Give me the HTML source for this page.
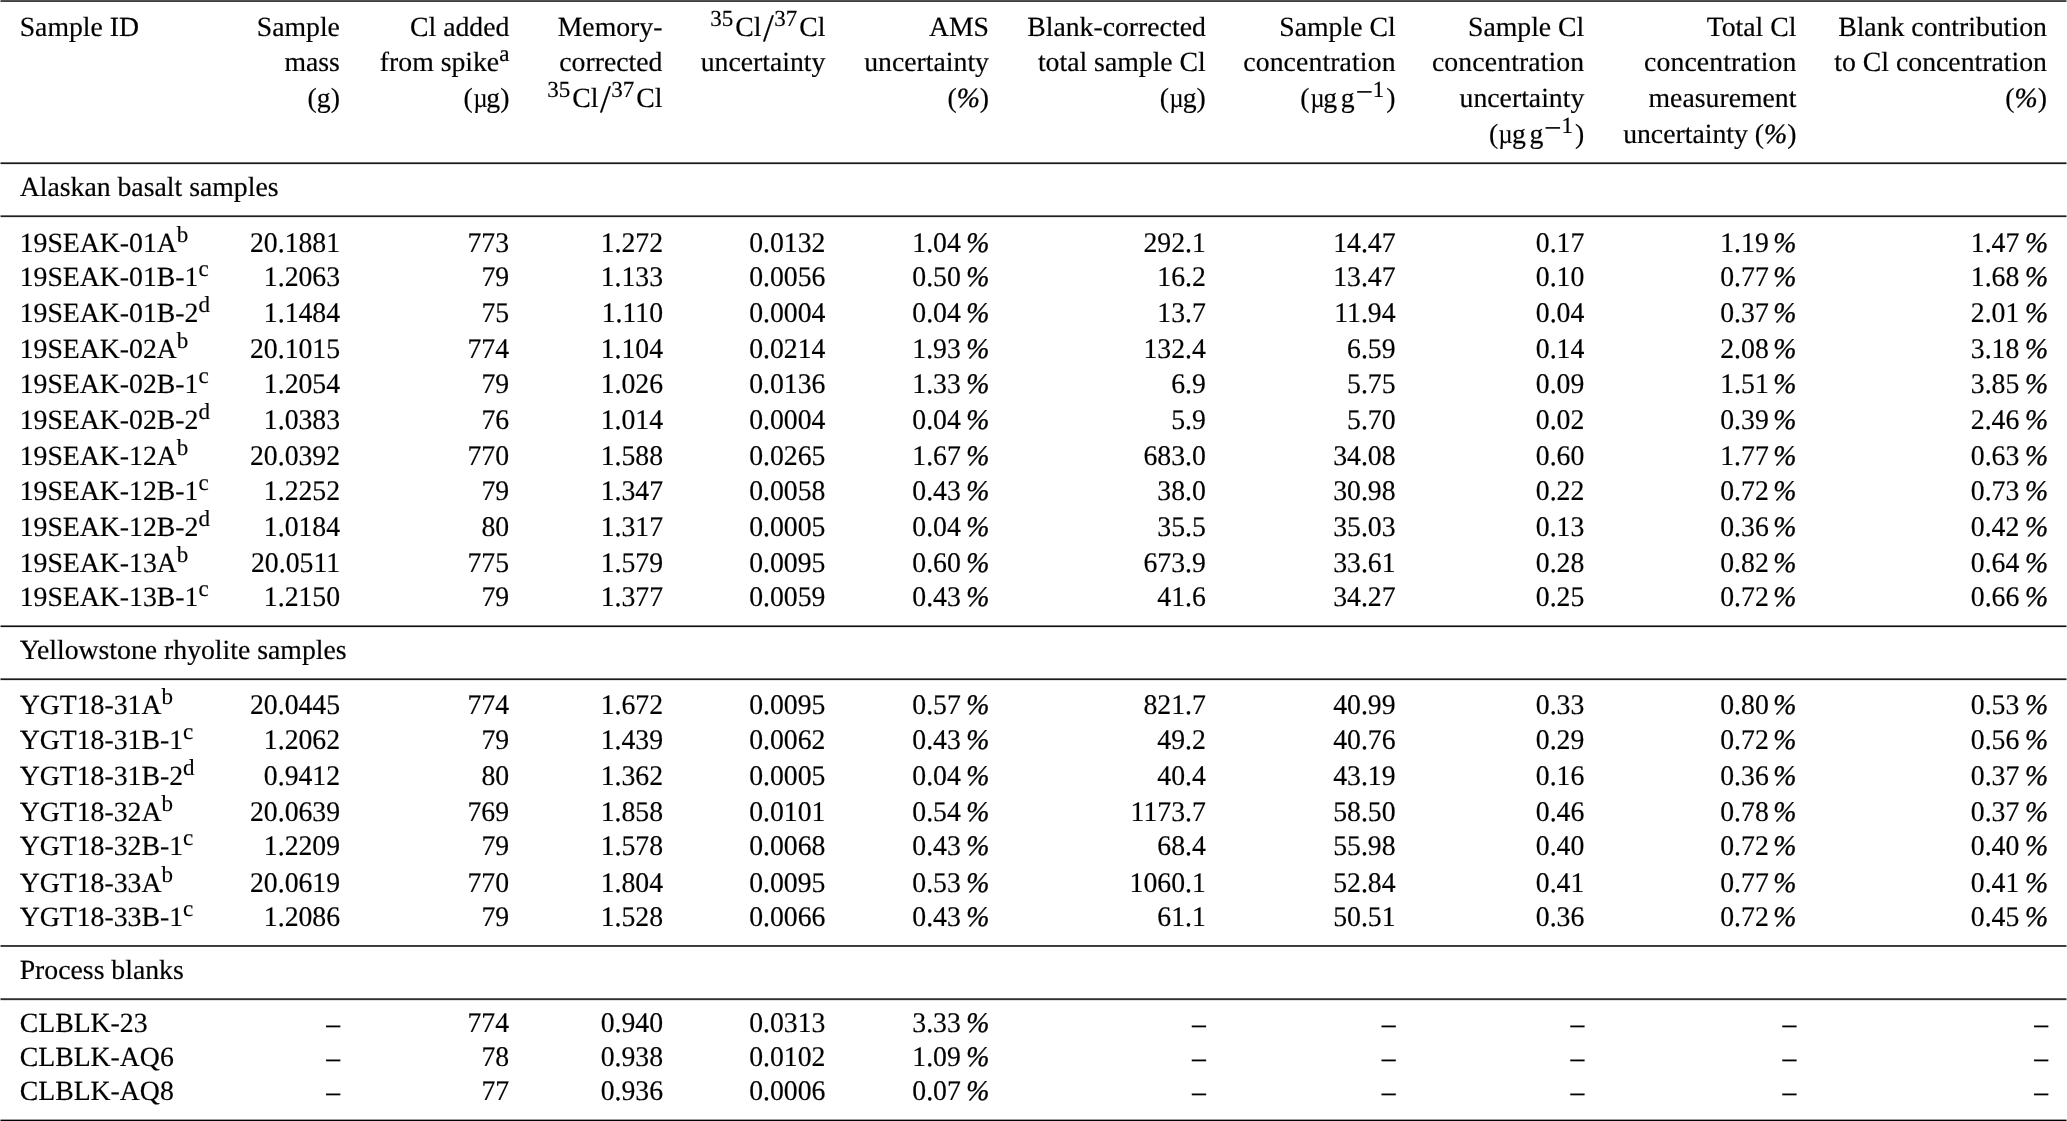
<!DOCTYPE html>
<html lang="en"><head><meta charset="utf-8"><title>Table</title>
<style>
html,body{margin:0;padding:0;background:#fff;}
body{width:2067px;height:1121px;position:relative;overflow:hidden;will-change:transform;
 font-family:"Liberation Serif","DejaVu Serif",serif;font-size:27.74px;color:#000;-webkit-text-stroke:0.18px #000;
 -webkit-font-smoothing:antialiased;text-rendering:geometricPrecision;}
.c{position:absolute;white-space:nowrap;line-height:36px;height:36px;}
.r{text-align:right;}
.n{transform:scaleY(1.024);transform-origin:0 26px;}
.rule{position:absolute;left:1px;width:2065px;height:1px;}
.cap{position:absolute;width:1px;height:1px;}
sup{font-size:23px;line-height:0;vertical-align:baseline;position:relative;top:-10.5px;}
sup.ss{margin-right:2px;}
i{font-style:italic;-webkit-text-stroke:0.36px #000;}
.lsp{letter-spacing:0.11px;}
.ps{display:inline-block;width:4.5px;}
.p6{display:inline-block;width:5.4px;}
.pw{display:inline-block;width:5.7px;}
.d{position:relative;top:1px;-webkit-text-stroke:0.12px #000;}
.ts{display:inline-block;width:0.135em;}
.sl{font-size:39px;line-height:0;position:relative;top:5px;margin-left:1.7px;margin-right:0.3px;}
.mn{font-size:30.5px;line-height:0;position:relative;top:-5.5px;margin-left:1px;}
.mu{display:inline-block;width:13.6px;transform-origin:0 0;transform:translateX(0.5px) scaleX(0.88);}
</style></head>
<body>
<div class="rule" style="top:0px;background:#525252"></div>
<div class="cap" style="top:0px;left:0;background:#a8a8a8"></div>
<div class="cap" style="top:0px;left:2066px;background:#a8a8a8"></div>
<div class="rule" style="top:1px;background:#3e3e3e"></div>
<div class="cap" style="top:1px;left:0;background:#9e9e9e"></div>
<div class="cap" style="top:1px;left:2066px;background:#9e9e9e"></div>
<div class="rule" style="top:162px;background:#6a6a6a"></div>
<div class="cap" style="top:162px;left:0;background:#b4b4b4"></div>
<div class="cap" style="top:162px;left:2066px;background:#b4b4b4"></div>
<div class="rule" style="top:163px;background:#1a1a1a"></div>
<div class="cap" style="top:163px;left:0;background:#8c8c8c"></div>
<div class="cap" style="top:163px;left:2066px;background:#8c8c8c"></div>
<div class="rule" style="top:164px;background:#e4e4e4"></div>
<div class="cap" style="top:164px;left:0;background:#f2f2f2"></div>
<div class="cap" style="top:164px;left:2066px;background:#f2f2f2"></div>
<div class="rule" style="top:215px;background:#707070"></div>
<div class="cap" style="top:215px;left:0;background:#b8b8b8"></div>
<div class="cap" style="top:215px;left:2066px;background:#b8b8b8"></div>
<div class="rule" style="top:216px;background:#202020"></div>
<div class="cap" style="top:216px;left:0;background:#909090"></div>
<div class="cap" style="top:216px;left:2066px;background:#909090"></div>
<div class="rule" style="top:217px;background:#e4e4e4"></div>
<div class="cap" style="top:217px;left:0;background:#f2f2f2"></div>
<div class="cap" style="top:217px;left:2066px;background:#f2f2f2"></div>
<div class="rule" style="top:625px;background:#787878"></div>
<div class="cap" style="top:625px;left:0;background:#bcbcbc"></div>
<div class="cap" style="top:625px;left:2066px;background:#bcbcbc"></div>
<div class="rule" style="top:626px;background:#0d0d0d"></div>
<div class="cap" style="top:626px;left:0;background:#868686"></div>
<div class="cap" style="top:626px;left:2066px;background:#868686"></div>
<div class="rule" style="top:627px;background:#e8e8e8"></div>
<div class="cap" style="top:627px;left:0;background:#f4f4f4"></div>
<div class="cap" style="top:627px;left:2066px;background:#f4f4f4"></div>
<div class="rule" style="top:678px;background:#6a6a6a"></div>
<div class="cap" style="top:678px;left:0;background:#b4b4b4"></div>
<div class="cap" style="top:678px;left:2066px;background:#b4b4b4"></div>
<div class="rule" style="top:679px;background:#1a1a1a"></div>
<div class="cap" style="top:679px;left:0;background:#8c8c8c"></div>
<div class="cap" style="top:679px;left:2066px;background:#8c8c8c"></div>
<div class="rule" style="top:680px;background:#e4e4e4"></div>
<div class="cap" style="top:680px;left:0;background:#f2f2f2"></div>
<div class="cap" style="top:680px;left:2066px;background:#f2f2f2"></div>
<div class="rule" style="top:945px;background:#3a3a3a"></div>
<div class="cap" style="top:945px;left:0;background:#9c9c9c"></div>
<div class="cap" style="top:945px;left:2066px;background:#9c9c9c"></div>
<div class="rule" style="top:946px;background:#454545"></div>
<div class="cap" style="top:946px;left:0;background:#a2a2a2"></div>
<div class="cap" style="top:946px;left:2066px;background:#a2a2a2"></div>
<div class="rule" style="top:998px;background:#5c5c5c"></div>
<div class="cap" style="top:998px;left:0;background:#aeaeae"></div>
<div class="cap" style="top:998px;left:2066px;background:#aeaeae"></div>
<div class="rule" style="top:999px;background:#303030"></div>
<div class="cap" style="top:999px;left:0;background:#989898"></div>
<div class="cap" style="top:999px;left:2066px;background:#989898"></div>
<div class="rule" style="top:1000px;background:#e0e0e0"></div>
<div class="cap" style="top:1000px;left:0;background:#f0f0f0"></div>
<div class="cap" style="top:1000px;left:2066px;background:#f0f0f0"></div>
<div class="rule" style="top:1119px;background:#a0a0a0"></div>
<div class="cap" style="top:1119px;left:0;background:#d0d0d0"></div>
<div class="cap" style="top:1119px;left:2066px;background:#d0d0d0"></div>
<div class="rule" style="top:1120px;background:#000000"></div>
<div class="cap" style="top:1120px;left:0;background:#808080"></div>
<div class="cap" style="top:1120px;left:2066px;background:#808080"></div>
<div class="c" style="left:19.70px;top:10px">Sample ID</div>
<div class="c r" style="right:1727.10px;top:10px">Sample</div>
<div class="c r" style="right:1727.10px;top:45px">mass</div>
<div class="c r" style="right:1727.10px;top:81px">(g)</div>
<div class="c r" style="right:1557.60px;top:10px">Cl added</div>
<div class="c r" style="right:1557.60px;top:45px">from spike<sup>a</sup></div>
<div class="c r" style="right:1557.60px;top:81px">(<span class="mu">µ</span>g)</div>
<div class="c r" style="right:1404.60px;top:10px">Memory-</div>
<div class="c r" style="right:1404.60px;top:45px">corrected</div>
<div class="c r" style="right:1404.60px;top:81px"><sup class="ss">35</sup>Cl<span class="sl">/</span><sup class="ss">37</sup>Cl</div>
<div class="c r" style="right:1241.60px;top:10px"><sup class="ss">35</sup>Cl<span class="sl">/</span><sup class="ss">37</sup>Cl</div>
<div class="c r" style="right:1241.60px;top:45px">uncertainty</div>
<div class="c r" style="right:1078.00px;top:10px">AMS</div>
<div class="c r" style="right:1078.00px;top:45px">uncertainty</div>
<div class="c r" style="right:1078.00px;top:81px">(<i>%</i>)</div>
<div class="c r" style="right:861.20px;top:10px">Blank-corrected</div>
<div class="c r" style="right:861.20px;top:45px">total sample Cl</div>
<div class="c r" style="right:861.20px;top:81px">(<span class="mu">µ</span>g)</div>
<div class="c r" style="right:671.40px;top:10px">Sample Cl</div>
<div class="c r" style="right:671.40px;top:45px"><span class="lsp">concentration</span></div>
<div class="c r" style="right:671.40px;top:81px">(<span class="mu">µ</span>g<span class="ts"></span>g<span class="mn">−</span><sup class="ss">1</sup>)</div>
<div class="c r" style="right:482.70px;top:10px">Sample Cl</div>
<div class="c r" style="right:482.70px;top:45px"><span class="lsp">concentration</span></div>
<div class="c r" style="right:482.70px;top:81px">uncertainty</div>
<div class="c r" style="right:482.70px;top:117px">(<span class="mu">µ</span>g<span class="ts"></span>g<span class="mn">−</span><sup class="ss">1</sup>)</div>
<div class="c r" style="right:270.60px;top:10px">Total Cl</div>
<div class="c r" style="right:270.60px;top:45px"><span class="lsp">concentration</span></div>
<div class="c r" style="right:270.60px;top:81px">measurement</div>
<div class="c r" style="right:270.60px;top:117px">uncertainty (<i>%</i>)</div>
<div class="c r" style="right:20.10px;top:10px">Blank contribution</div>
<div class="c r" style="right:20.10px;top:45px">to Cl concentration</div>
<div class="c r" style="right:20.10px;top:81px">(<i>%</i>)</div>
<div class="c" style="left:19.70px;top:170px">Alaskan basalt samples</div>
<div class="c" style="left:19.70px;top:633px">Yellowstone rhyolite samples</div>
<div class="c" style="left:19.70px;top:953px">Process blanks</div>
<div class="c" style="left:19.70px;top:226px">19SEAK-01A<sup>b</sup></div>
<div class="c r n" style="right:1726.90px;top:226px">20.1881</div>
<div class="c r n" style="right:1557.90px;top:226px">773</div>
<div class="c r n" style="right:1403.90px;top:226px">1.272</div>
<div class="c r n" style="right:1241.60px;top:226px">0.0132</div>
<div class="c r n" style="right:1077.70px;top:226px">1.04<span class="p6"></span><i>%</i></div>
<div class="c r n" style="right:861.20px;top:226px">292.1</div>
<div class="c r n" style="right:671.40px;top:226px">14.47</div>
<div class="c r n" style="right:482.70px;top:226px">0.17</div>
<div class="c r n" style="right:270.60px;top:226px">1.19<span class="ps"></span><i>%</i></div>
<div class="c r n" style="right:18.90px;top:226px">1.47<span class="pw"></span><i>%</i></div>
<div class="c" style="left:19.70px;top:260px">19SEAK-01B-1<sup>c</sup></div>
<div class="c r n" style="right:1726.90px;top:260px">1.2063</div>
<div class="c r n" style="right:1557.90px;top:260px">79</div>
<div class="c r n" style="right:1403.90px;top:260px">1.133</div>
<div class="c r n" style="right:1241.60px;top:260px">0.0056</div>
<div class="c r n" style="right:1077.70px;top:260px">0.50<span class="p6"></span><i>%</i></div>
<div class="c r n" style="right:861.20px;top:260px">16.2</div>
<div class="c r n" style="right:671.40px;top:260px">13.47</div>
<div class="c r n" style="right:482.70px;top:260px">0.10</div>
<div class="c r n" style="right:270.60px;top:260px">0.77<span class="ps"></span><i>%</i></div>
<div class="c r n" style="right:18.90px;top:260px">1.68<span class="pw"></span><i>%</i></div>
<div class="c" style="left:19.70px;top:296px">19SEAK-01B-2<sup>d</sup></div>
<div class="c r n" style="right:1726.90px;top:296px">1.1484</div>
<div class="c r n" style="right:1557.90px;top:296px">75</div>
<div class="c r n" style="right:1403.90px;top:296px">1.110</div>
<div class="c r n" style="right:1241.60px;top:296px">0.0004</div>
<div class="c r n" style="right:1077.70px;top:296px">0.04<span class="p6"></span><i>%</i></div>
<div class="c r n" style="right:861.20px;top:296px">13.7</div>
<div class="c r n" style="right:671.40px;top:296px">11.94</div>
<div class="c r n" style="right:482.70px;top:296px">0.04</div>
<div class="c r n" style="right:270.60px;top:296px">0.37<span class="ps"></span><i>%</i></div>
<div class="c r n" style="right:18.90px;top:296px">2.01<span class="pw"></span><i>%</i></div>
<div class="c" style="left:19.70px;top:332px">19SEAK-02A<sup>b</sup></div>
<div class="c r n" style="right:1726.90px;top:332px">20.1015</div>
<div class="c r n" style="right:1557.90px;top:332px">774</div>
<div class="c r n" style="right:1403.90px;top:332px">1.104</div>
<div class="c r n" style="right:1241.60px;top:332px">0.0214</div>
<div class="c r n" style="right:1077.70px;top:332px">1.93<span class="p6"></span><i>%</i></div>
<div class="c r n" style="right:861.20px;top:332px">132.4</div>
<div class="c r n" style="right:671.40px;top:332px">6.59</div>
<div class="c r n" style="right:482.70px;top:332px">0.14</div>
<div class="c r n" style="right:270.60px;top:332px">2.08<span class="ps"></span><i>%</i></div>
<div class="c r n" style="right:18.90px;top:332px">3.18<span class="pw"></span><i>%</i></div>
<div class="c" style="left:19.70px;top:367px">19SEAK-02B-1<sup>c</sup></div>
<div class="c r n" style="right:1726.90px;top:367px">1.2054</div>
<div class="c r n" style="right:1557.90px;top:367px">79</div>
<div class="c r n" style="right:1403.90px;top:367px">1.026</div>
<div class="c r n" style="right:1241.60px;top:367px">0.0136</div>
<div class="c r n" style="right:1077.70px;top:367px">1.33<span class="p6"></span><i>%</i></div>
<div class="c r n" style="right:861.20px;top:367px">6.9</div>
<div class="c r n" style="right:671.40px;top:367px">5.75</div>
<div class="c r n" style="right:482.70px;top:367px">0.09</div>
<div class="c r n" style="right:270.60px;top:367px">1.51<span class="ps"></span><i>%</i></div>
<div class="c r n" style="right:18.90px;top:367px">3.85<span class="pw"></span><i>%</i></div>
<div class="c" style="left:19.70px;top:403px">19SEAK-02B-2<sup>d</sup></div>
<div class="c r n" style="right:1726.90px;top:403px">1.0383</div>
<div class="c r n" style="right:1557.90px;top:403px">76</div>
<div class="c r n" style="right:1403.90px;top:403px">1.014</div>
<div class="c r n" style="right:1241.60px;top:403px">0.0004</div>
<div class="c r n" style="right:1077.70px;top:403px">0.04<span class="p6"></span><i>%</i></div>
<div class="c r n" style="right:861.20px;top:403px">5.9</div>
<div class="c r n" style="right:671.40px;top:403px">5.70</div>
<div class="c r n" style="right:482.70px;top:403px">0.02</div>
<div class="c r n" style="right:270.60px;top:403px">0.39<span class="ps"></span><i>%</i></div>
<div class="c r n" style="right:18.90px;top:403px">2.46<span class="pw"></span><i>%</i></div>
<div class="c" style="left:19.70px;top:439px">19SEAK-12A<sup>b</sup></div>
<div class="c r n" style="right:1726.90px;top:439px">20.0392</div>
<div class="c r n" style="right:1557.90px;top:439px">770</div>
<div class="c r n" style="right:1403.90px;top:439px">1.588</div>
<div class="c r n" style="right:1241.60px;top:439px">0.0265</div>
<div class="c r n" style="right:1077.70px;top:439px">1.67<span class="p6"></span><i>%</i></div>
<div class="c r n" style="right:861.20px;top:439px">683.0</div>
<div class="c r n" style="right:671.40px;top:439px">34.08</div>
<div class="c r n" style="right:482.70px;top:439px">0.60</div>
<div class="c r n" style="right:270.60px;top:439px">1.77<span class="ps"></span><i>%</i></div>
<div class="c r n" style="right:18.90px;top:439px">0.63<span class="pw"></span><i>%</i></div>
<div class="c" style="left:19.70px;top:474px">19SEAK-12B-1<sup>c</sup></div>
<div class="c r n" style="right:1726.90px;top:474px">1.2252</div>
<div class="c r n" style="right:1557.90px;top:474px">79</div>
<div class="c r n" style="right:1403.90px;top:474px">1.347</div>
<div class="c r n" style="right:1241.60px;top:474px">0.0058</div>
<div class="c r n" style="right:1077.70px;top:474px">0.43<span class="p6"></span><i>%</i></div>
<div class="c r n" style="right:861.20px;top:474px">38.0</div>
<div class="c r n" style="right:671.40px;top:474px">30.98</div>
<div class="c r n" style="right:482.70px;top:474px">0.22</div>
<div class="c r n" style="right:270.60px;top:474px">0.72<span class="ps"></span><i>%</i></div>
<div class="c r n" style="right:18.90px;top:474px">0.73<span class="pw"></span><i>%</i></div>
<div class="c" style="left:19.70px;top:510px">19SEAK-12B-2<sup>d</sup></div>
<div class="c r n" style="right:1726.90px;top:510px">1.0184</div>
<div class="c r n" style="right:1557.90px;top:510px">80</div>
<div class="c r n" style="right:1403.90px;top:510px">1.317</div>
<div class="c r n" style="right:1241.60px;top:510px">0.0005</div>
<div class="c r n" style="right:1077.70px;top:510px">0.04<span class="p6"></span><i>%</i></div>
<div class="c r n" style="right:861.20px;top:510px">35.5</div>
<div class="c r n" style="right:671.40px;top:510px">35.03</div>
<div class="c r n" style="right:482.70px;top:510px">0.13</div>
<div class="c r n" style="right:270.60px;top:510px">0.36<span class="ps"></span><i>%</i></div>
<div class="c r n" style="right:18.90px;top:510px">0.42<span class="pw"></span><i>%</i></div>
<div class="c" style="left:19.70px;top:546px">19SEAK-13A<sup>b</sup></div>
<div class="c r n" style="right:1726.90px;top:546px">20.0511</div>
<div class="c r n" style="right:1557.90px;top:546px">775</div>
<div class="c r n" style="right:1403.90px;top:546px">1.579</div>
<div class="c r n" style="right:1241.60px;top:546px">0.0095</div>
<div class="c r n" style="right:1077.70px;top:546px">0.60<span class="p6"></span><i>%</i></div>
<div class="c r n" style="right:861.20px;top:546px">673.9</div>
<div class="c r n" style="right:671.40px;top:546px">33.61</div>
<div class="c r n" style="right:482.70px;top:546px">0.28</div>
<div class="c r n" style="right:270.60px;top:546px">0.82<span class="ps"></span><i>%</i></div>
<div class="c r n" style="right:18.90px;top:546px">0.64<span class="pw"></span><i>%</i></div>
<div class="c" style="left:19.70px;top:580px">19SEAK-13B-1<sup>c</sup></div>
<div class="c r n" style="right:1726.90px;top:580px">1.2150</div>
<div class="c r n" style="right:1557.90px;top:580px">79</div>
<div class="c r n" style="right:1403.90px;top:580px">1.377</div>
<div class="c r n" style="right:1241.60px;top:580px">0.0059</div>
<div class="c r n" style="right:1077.70px;top:580px">0.43<span class="p6"></span><i>%</i></div>
<div class="c r n" style="right:861.20px;top:580px">41.6</div>
<div class="c r n" style="right:671.40px;top:580px">34.27</div>
<div class="c r n" style="right:482.70px;top:580px">0.25</div>
<div class="c r n" style="right:270.60px;top:580px">0.72<span class="ps"></span><i>%</i></div>
<div class="c r n" style="right:18.90px;top:580px">0.66<span class="pw"></span><i>%</i></div>
<div class="c" style="left:19.70px;top:688px">YGT18-31A<sup>b</sup></div>
<div class="c r n" style="right:1726.90px;top:688px">20.0445</div>
<div class="c r n" style="right:1557.90px;top:688px">774</div>
<div class="c r n" style="right:1403.90px;top:688px">1.672</div>
<div class="c r n" style="right:1241.60px;top:688px">0.0095</div>
<div class="c r n" style="right:1077.70px;top:688px">0.57<span class="p6"></span><i>%</i></div>
<div class="c r n" style="right:861.20px;top:688px">821.7</div>
<div class="c r n" style="right:671.40px;top:688px">40.99</div>
<div class="c r n" style="right:482.70px;top:688px">0.33</div>
<div class="c r n" style="right:270.60px;top:688px">0.80<span class="ps"></span><i>%</i></div>
<div class="c r n" style="right:18.90px;top:688px">0.53<span class="pw"></span><i>%</i></div>
<div class="c" style="left:19.70px;top:723px">YGT18-31B-1<sup>c</sup></div>
<div class="c r n" style="right:1726.90px;top:723px">1.2062</div>
<div class="c r n" style="right:1557.90px;top:723px">79</div>
<div class="c r n" style="right:1403.90px;top:723px">1.439</div>
<div class="c r n" style="right:1241.60px;top:723px">0.0062</div>
<div class="c r n" style="right:1077.70px;top:723px">0.43<span class="p6"></span><i>%</i></div>
<div class="c r n" style="right:861.20px;top:723px">49.2</div>
<div class="c r n" style="right:671.40px;top:723px">40.76</div>
<div class="c r n" style="right:482.70px;top:723px">0.29</div>
<div class="c r n" style="right:270.60px;top:723px">0.72<span class="ps"></span><i>%</i></div>
<div class="c r n" style="right:18.90px;top:723px">0.56<span class="pw"></span><i>%</i></div>
<div class="c" style="left:19.70px;top:759px">YGT18-31B-2<sup>d</sup></div>
<div class="c r n" style="right:1726.90px;top:759px">0.9412</div>
<div class="c r n" style="right:1557.90px;top:759px">80</div>
<div class="c r n" style="right:1403.90px;top:759px">1.362</div>
<div class="c r n" style="right:1241.60px;top:759px">0.0005</div>
<div class="c r n" style="right:1077.70px;top:759px">0.04<span class="p6"></span><i>%</i></div>
<div class="c r n" style="right:861.20px;top:759px">40.4</div>
<div class="c r n" style="right:671.40px;top:759px">43.19</div>
<div class="c r n" style="right:482.70px;top:759px">0.16</div>
<div class="c r n" style="right:270.60px;top:759px">0.36<span class="ps"></span><i>%</i></div>
<div class="c r n" style="right:18.90px;top:759px">0.37<span class="pw"></span><i>%</i></div>
<div class="c" style="left:19.70px;top:795px">YGT18-32A<sup>b</sup></div>
<div class="c r n" style="right:1726.90px;top:795px">20.0639</div>
<div class="c r n" style="right:1557.90px;top:795px">769</div>
<div class="c r n" style="right:1403.90px;top:795px">1.858</div>
<div class="c r n" style="right:1241.60px;top:795px">0.0101</div>
<div class="c r n" style="right:1077.70px;top:795px">0.54<span class="p6"></span><i>%</i></div>
<div class="c r n" style="right:861.20px;top:795px">1173.7</div>
<div class="c r n" style="right:671.40px;top:795px">58.50</div>
<div class="c r n" style="right:482.70px;top:795px">0.46</div>
<div class="c r n" style="right:270.60px;top:795px">0.78<span class="ps"></span><i>%</i></div>
<div class="c r n" style="right:18.90px;top:795px">0.37<span class="pw"></span><i>%</i></div>
<div class="c" style="left:19.70px;top:829px">YGT18-32B-1<sup>c</sup></div>
<div class="c r n" style="right:1726.90px;top:829px">1.2209</div>
<div class="c r n" style="right:1557.90px;top:829px">79</div>
<div class="c r n" style="right:1403.90px;top:829px">1.578</div>
<div class="c r n" style="right:1241.60px;top:829px">0.0068</div>
<div class="c r n" style="right:1077.70px;top:829px">0.43<span class="p6"></span><i>%</i></div>
<div class="c r n" style="right:861.20px;top:829px">68.4</div>
<div class="c r n" style="right:671.40px;top:829px">55.98</div>
<div class="c r n" style="right:482.70px;top:829px">0.40</div>
<div class="c r n" style="right:270.60px;top:829px">0.72<span class="ps"></span><i>%</i></div>
<div class="c r n" style="right:18.90px;top:829px">0.40<span class="pw"></span><i>%</i></div>
<div class="c" style="left:19.70px;top:866px">YGT18-33A<sup>b</sup></div>
<div class="c r n" style="right:1726.90px;top:866px">20.0619</div>
<div class="c r n" style="right:1557.90px;top:866px">770</div>
<div class="c r n" style="right:1403.90px;top:866px">1.804</div>
<div class="c r n" style="right:1241.60px;top:866px">0.0095</div>
<div class="c r n" style="right:1077.70px;top:866px">0.53<span class="p6"></span><i>%</i></div>
<div class="c r n" style="right:861.20px;top:866px">1060.1</div>
<div class="c r n" style="right:671.40px;top:866px">52.84</div>
<div class="c r n" style="right:482.70px;top:866px">0.41</div>
<div class="c r n" style="right:270.60px;top:866px">0.77<span class="ps"></span><i>%</i></div>
<div class="c r n" style="right:18.90px;top:866px">0.41<span class="pw"></span><i>%</i></div>
<div class="c" style="left:19.70px;top:900px">YGT18-33B-1<sup>c</sup></div>
<div class="c r n" style="right:1726.90px;top:900px">1.2086</div>
<div class="c r n" style="right:1557.90px;top:900px">79</div>
<div class="c r n" style="right:1403.90px;top:900px">1.528</div>
<div class="c r n" style="right:1241.60px;top:900px">0.0066</div>
<div class="c r n" style="right:1077.70px;top:900px">0.43<span class="p6"></span><i>%</i></div>
<div class="c r n" style="right:861.20px;top:900px">61.1</div>
<div class="c r n" style="right:671.40px;top:900px">50.51</div>
<div class="c r n" style="right:482.70px;top:900px">0.36</div>
<div class="c r n" style="right:270.60px;top:900px">0.72<span class="ps"></span><i>%</i></div>
<div class="c r n" style="right:18.90px;top:900px">0.45<span class="pw"></span><i>%</i></div>
<div class="c" style="left:19.70px;top:1006px">CLBLK-23</div>
<div class="c r n" style="right:1726.90px;top:1006px"><span class="d">–</span></div>
<div class="c r n" style="right:1557.90px;top:1006px">774</div>
<div class="c r n" style="right:1403.90px;top:1006px">0.940</div>
<div class="c r n" style="right:1241.60px;top:1006px">0.0313</div>
<div class="c r n" style="right:1077.70px;top:1006px">3.33<span class="p6"></span><i>%</i></div>
<div class="c r n" style="right:861.20px;top:1006px"><span class="d">–</span></div>
<div class="c r n" style="right:671.40px;top:1006px"><span class="d">–</span></div>
<div class="c r n" style="right:482.70px;top:1006px"><span class="d">–</span></div>
<div class="c r n" style="right:270.60px;top:1006px"><span class="d">–</span></div>
<div class="c r n" style="right:18.90px;top:1006px"><span class="d">–</span></div>
<div class="c" style="left:19.70px;top:1040px">CLBLK-AQ6</div>
<div class="c r n" style="right:1726.90px;top:1040px"><span class="d">–</span></div>
<div class="c r n" style="right:1557.90px;top:1040px">78</div>
<div class="c r n" style="right:1403.90px;top:1040px">0.938</div>
<div class="c r n" style="right:1241.60px;top:1040px">0.0102</div>
<div class="c r n" style="right:1077.70px;top:1040px">1.09<span class="p6"></span><i>%</i></div>
<div class="c r n" style="right:861.20px;top:1040px"><span class="d">–</span></div>
<div class="c r n" style="right:671.40px;top:1040px"><span class="d">–</span></div>
<div class="c r n" style="right:482.70px;top:1040px"><span class="d">–</span></div>
<div class="c r n" style="right:270.60px;top:1040px"><span class="d">–</span></div>
<div class="c r n" style="right:18.90px;top:1040px"><span class="d">–</span></div>
<div class="c" style="left:19.70px;top:1074px">CLBLK-AQ8</div>
<div class="c r n" style="right:1726.90px;top:1074px"><span class="d">–</span></div>
<div class="c r n" style="right:1557.90px;top:1074px">77</div>
<div class="c r n" style="right:1403.90px;top:1074px">0.936</div>
<div class="c r n" style="right:1241.60px;top:1074px">0.0006</div>
<div class="c r n" style="right:1077.70px;top:1074px">0.07<span class="p6"></span><i>%</i></div>
<div class="c r n" style="right:861.20px;top:1074px"><span class="d">–</span></div>
<div class="c r n" style="right:671.40px;top:1074px"><span class="d">–</span></div>
<div class="c r n" style="right:482.70px;top:1074px"><span class="d">–</span></div>
<div class="c r n" style="right:270.60px;top:1074px"><span class="d">–</span></div>
<div class="c r n" style="right:18.90px;top:1074px"><span class="d">–</span></div>
</body></html>
